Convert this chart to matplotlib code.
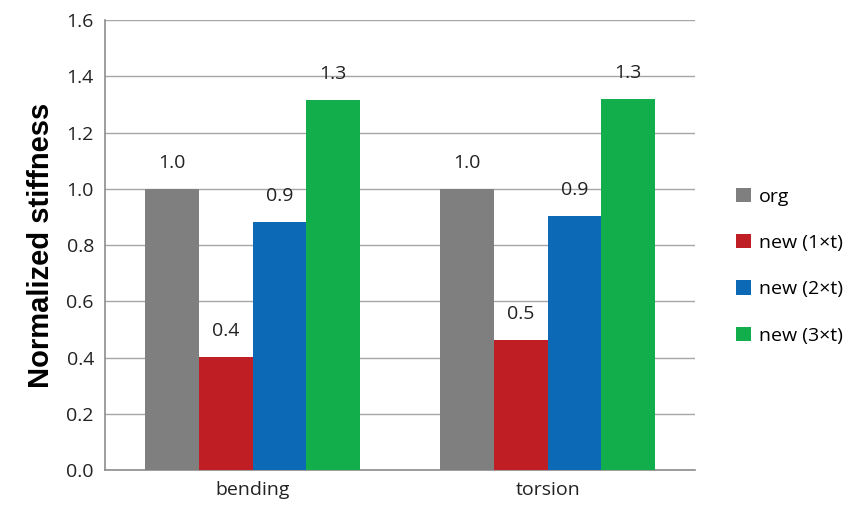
import matplotlib
matplotlib.use("Agg")
import matplotlib.pyplot as plt
import numpy as np

categories = ["bending", "torsion"]
series = ["org", "new (1×t)", "new (2×t)", "new (3×t)"]
org = [1.0, 1.0]
new1 = [0.402, 0.462]
new2 = [0.882, 0.903]
new3 = [1.316, 1.319]
colors = ["#7f7f7f", "#be1e24", "#0c69b5", "#12ae4b"]

plt.rcParams['font.family'] = ['Open Sans', 'DejaVu Sans']

fig = plt.figure(figsize=(8.54, 5.16), dpi=100)
ax = fig.add_axes([0.123, 0.089, 0.691, 0.872])

x = np.arange(len(categories))
w = 0.182
for i, (vals, name) in enumerate(zip([org, new1, new2, new3], series)):
    pos = x + (i - 1.5) * w
    ax.bar(pos, vals, w, color=colors[i], label=name, zorder=3)
    for xp, v in zip(pos, vals):
        ax.annotate("%.1f" % v, (xp, v), xytext=(0, 18.5), textcoords="offset points",
                    ha="center", va="center", fontsize=14, color="#222222")

ax.set_xlim(-0.5, 1.5)
ax.set_ylim(0, 1.6)
ax.set_yticks(np.arange(0, 1.61, 0.2))
ax.set_yticklabels(["%.1f" % t for t in np.arange(0, 1.61, 0.2)])
ax.set_xticks(x)
ax.set_xticklabels(categories)
ax.tick_params(axis="both", length=0, labelsize=14, colors="#222222", pad=8)
ax.grid(axis="y", color="#a6a6a6", linewidth=1, zorder=0)
for s in ["top", "right"]:
    ax.spines[s].set_visible(False)
for s in ["left", "bottom"]:
    ax.spines[s].set_color("#8c8c8c")
    ax.spines[s].set_linewidth(1.2)

ax.set_ylabel("Normalized stiffness", fontsize=21, fontweight="bold",
              family=["Liberation Sans", "DejaVu Sans"], labelpad=8)

ax.legend(loc="center left", bbox_to_anchor=(1.04, 0.453), frameon=False,
          fontsize=14, handlelength=0.75, handleheight=0.75, handletextpad=0.4,
          labelspacing=1.45)

fig.savefig("out.png", dpi=100)
